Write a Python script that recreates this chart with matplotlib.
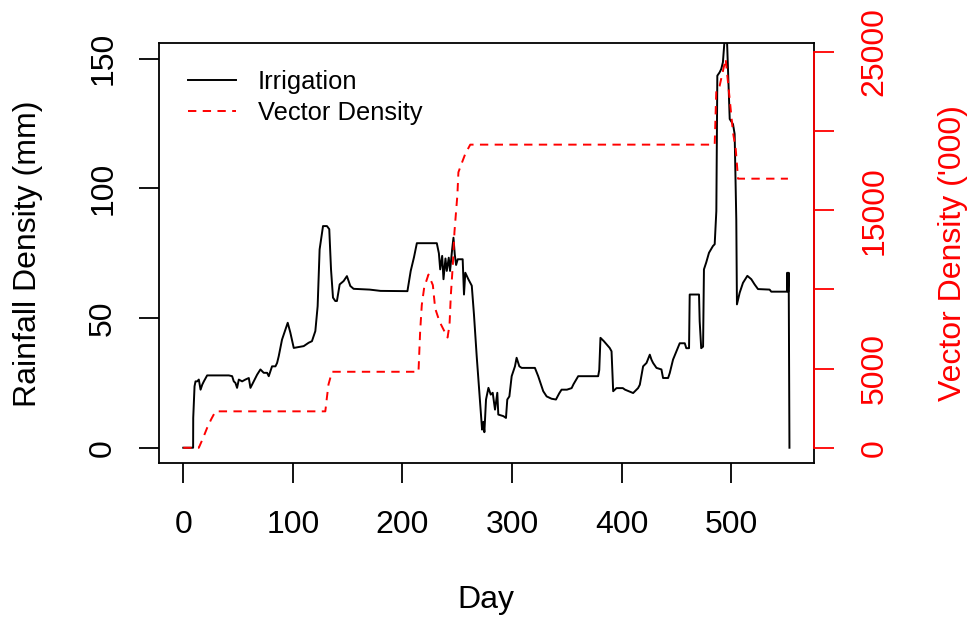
import matplotlib
matplotlib.use("Agg")
import matplotlib.pyplot as plt

plt.rcParams['font.family'] = ['Liberation Sans', 'DejaVu Sans']
plt.rcParams['lines.scale_dashes'] = False

# irrigation / rainfall series (mm) by day
irr_day = [0, 9, 9.1, 10.3, 11.2, 12.7, 14.2, 15.8, 17.3, 18.8, 21.8, 41.6, 44.6, 46.1, 47.6,
           49.1, 50.7, 53.7, 56.7, 59.8, 61.3, 64.3, 67.4, 70.4, 73.4, 76.5, 78, 81, 84.1,
           85.6, 87.1, 90.1, 93.2, 95.3, 97.7, 100.8, 109.9, 114.4, 117.4, 120.5, 122.6,
           124.4, 127.5, 131.1, 133.2, 134.8, 136.6, 138.7, 140.2, 142.7, 146.3, 149.3,
           152.4, 155.4, 170, 180, 198, 204.5, 207.5, 210.5, 213.1, 231.3, 233.2, 234.4,
           236.2, 237.4, 239.2, 240.4, 242.2, 243.4, 245.3, 246.5, 247.7, 248.9, 250.4,
           254.9, 256.1, 257.3, 260.1, 263.2, 265.2, 267.7, 269.5, 270.8, 272.6, 273.8,
           274.7, 276.2, 278.4, 280.5, 282.3, 284.4, 286.5, 287.4, 292, 294.4, 295.6,
           297.5, 299.6, 302.6, 304.1, 306.6, 308.7, 320.8, 323.8, 328.4, 331.5, 336, 340,
           343, 345.1, 350, 354.3, 356, 360.3, 378.5, 379.5, 380.6, 383.7, 389, 390.7,
           392.2, 395.2, 401, 403, 410.4, 414.9, 416.5, 419.5, 422.6, 425.6, 427.1, 428.6,
           431.7, 436.2, 437.7, 442.3, 443.8, 446.8, 449.9, 452.9, 457.5, 458.9, 461.4,
           462, 470.5, 471.1, 472.5, 474.2, 475, 477.1, 479.6, 483.2, 484.8, 486.3, 487.2,
           489.3, 490.8, 492.3, 494.3, 495.8, 496.9, 497.8, 498.5, 501.5, 503, 504.5,
           505.1, 507.6, 510.6, 514.6, 518.2, 521.2, 524.3, 534.9, 536.4, 550.7, 551,
           551.8, 552.3, 553]
irr_mm = [0, 0, 11.5, 23.7, 25.6, 25.6, 26.3, 22.4, 24.3, 25.6, 27.9, 27.9, 27.6, 25.6, 25.0,
          23.1, 26.3, 25.6, 26.3, 26.9, 23.1, 25.6, 28.2, 30.2, 28.9, 28.9, 27.6, 31.4, 31.4,
          32.7, 35.3, 41.7, 45.6, 48.2, 44.4, 38.5, 39.2, 40.5, 41.1, 45, 54.6,
          76.5, 85.5, 85.5, 84.3, 68.8, 57.9, 56.6, 56.6, 63, 64.3, 66.2,
          62.4, 61.3, 61, 60.5, 60.4, 60.4, 68.2, 73.5, 78.9, 78.9, 75, 68.8,
          74, 65, 73, 68.2, 73.3, 68.2, 76.5, 81, 74.5, 70.5, 72.7,
          72.7, 59.1, 67.5, 65, 62.5, 51.4, 35.3, 25.0, 17.3, 7, 10,
          6, 18.6, 23.1, 20.5, 21.2, 14.7, 21.2, 12.8, 12.2, 11.5, 18.6,
          19.8, 27.6, 31.4, 34.7, 31.4, 30.8, 30.8, 27.6, 21.8, 19.8, 18.9, 18.6,
          21, 22.4, 22.4, 23.0, 24.5, 27.6, 27.6, 30, 42.4, 41.1, 38.5, 37.2,
          21.8, 23.0, 23.0, 22.4, 21.1, 23.0, 24.3, 31.4, 32.7, 35.9, 34, 32.7,
          30.8, 30.2, 26.9, 26.9, 28.8, 34, 37.2, 40.3, 40.3, 38.4, 38.4,
          59.1, 59.1, 48.8, 38.4, 39, 68.8, 71.5, 75.2, 77.8, 78.5, 91.3, 143.5,
          144.8, 146.1, 148.7, 160, 160, 146, 135.2, 126.8, 124.8, 121, 88.1,
          55.3, 59.8, 63.6, 66.3, 65, 63, 61.2, 61.0, 60.2, 60.2, 67.5,
          60.2, 67.5, 0]

# vector density ('000) by day
vec_day = [0, 14.2, 18, 21.8, 25.5, 29.4, 129.6, 131, 132.5, 135.7, 214.6, 216.1, 217.6,
           219.8, 223.7, 227.7, 229.8, 233.8, 241.1, 242.9, 244.1, 245.9, 247.4, 250.1,
           251, 253.2, 257.2, 261.8, 484.8, 486.3, 489.3, 494.8, 498.5, 501.5, 504,
           506.1, 551.6]
vec_k = [0, 0, 600, 1258, 1800, 2300, 2300, 3145, 4000, 4800, 4800, 7338, 9016,
         10130, 10943, 10273, 8806, 7968, 6962, 7758, 9645, 11532, 13629, 16000,
         17402, 17822, 18554, 19150, 19150, 22644, 22863, 24570, 22012, 19919, 18870,
         17000, 17000]

day_ticks = [0, 100, 200, 300, 400, 500]
mm_ticks = [0, 50, 100, 150]
vec_ticks = [0, 5000, 10000, 15000, 20000, 25000]
vec_tick_labels = ['0', '5000', '', '15000', '', '25000']


def padded(lo, hi):
    # 4% padding either side, like R's default axis style
    d = (hi - lo) * 0.04
    return lo - d, hi + d


fig = plt.figure(figsize=(9.72, 6.21), dpi=100)
ax = fig.add_axes([159 / 972, (621 - 463.3) / 621, (813.7 - 159) / 972, 420 / 621])
ax2 = ax.twinx()

lw = 1.3
l1, = ax.plot(irr_day, irr_mm, color='black', lw=1.4, label='Irrigation')
l2, = ax2.plot(vec_day, vec_k, color='red', lw=1.4, linestyle=(0, (6.0, 4.6)),
               label='Vector Density')

ax.set_xlim(*padded(min(irr_day), max(irr_day)))
ax.set_ylim(*padded(0, 150))
ax2.set_ylim(*padded(0, max(vec_k)))

for s in ax.spines.values():
    s.set_linewidth(lw)
for name in ['left', 'top', 'bottom']:
    ax2.spines[name].set_visible(False)
ax2.spines['right'].set_color('red')
ax2.spines['right'].set_linewidth(lw)
ax2.spines['right'].set_bounds(0, 25000)

ax.set_xticks(day_ticks)
ax.set_yticks(mm_ticks)
ax2.set_yticks(vec_ticks)
ax2.set_yticklabels(vec_tick_labels)

ax.tick_params(axis='x', length=14.4, width=lw, labelsize=23, pad=19)
ax.tick_params(axis='y', length=14.4, width=lw, labelsize=23, pad=15)
ax2.tick_params(axis='y', length=14.4, width=lw, labelsize=23, pad=18.5,
                color='red', labelcolor='red')
for t in ax.get_yticklabels():
    t.set_rotation(90)
    t.set_va('center')
for t in ax2.get_yticklabels():
    t.set_rotation(90)
    t.set_va('center')

ax.set_xlabel('Day', fontsize=23)
ax.xaxis.set_label_coords(0.5, -0.3255)
ax.xaxis.label.set_va('center')
ax.set_ylabel('Rainfall Density (mm)', fontsize=23)
ax.yaxis.set_label_coords(-0.2, 0.5)
ax.yaxis.label.set_va('center')
ax2.set_ylabel("Vector Density ('000)", fontsize=23, color='red')
ax2.yaxis.set_label_coords(1.213, 0.5)
ax2.yaxis.label.set_va('center')

ax2.legend(handles=[l1, l2], loc='upper left', bbox_to_anchor=(0.044, 0.937),
           frameon=False, fontsize=18.4, handlelength=1.9, handletextpad=0.85,
           labelspacing=0.3, borderpad=0, borderaxespad=0)

fig.savefig('out.png', dpi=100)
